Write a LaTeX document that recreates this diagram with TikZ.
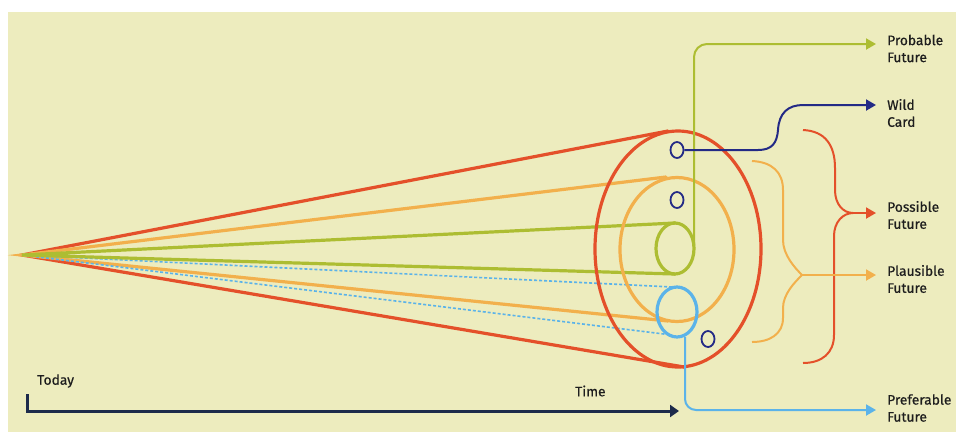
\documentclass[tikz,border=0pt]{standalone}
\usepackage{fontspec}
\setmainfont{Fira Sans}
\newfontfamily\lblfont{Fira Sans}[FakeBold=0.6]
\usetikzlibrary{arrows.meta,shapes.geometric}
\definecolor{bgc}{HTML}{EDECBE}
\definecolor{cred}{HTML}{E4502A}
\definecolor{corange}{HTML}{F2B04C}
\definecolor{cgreen}{HTML}{ADBD32}
\definecolor{cblue}{HTML}{5BB3E9}
\definecolor{cnavy}{HTML}{232A86}
\definecolor{caxis}{HTML}{1D2B4B}
\definecolor{ctext}{HTML}{1E1E1E}
\begin{document}
\begin{tikzpicture}[x=1pt,y=-1pt,
  lbl/.style={anchor=west,align=left,text=ctext,font=\lblfont\fontsize{13.8}{17}\selectfont,inner sep=0pt},
  conn/.style={line width=2pt},
  tip/.style={-{Triangle[length=10pt,width=11pt]}},
  ring/.style={line width=3.2pt},
  cone/.style={line width=3.2pt,line cap=round},
  dot/.style={line width=1.6pt,dash pattern=on 3pt off 2pt},
  hole/.style={draw=cnavy,line width=1.8pt,ellipse,minimum width=13pt,minimum height=16pt,inner sep=0pt}
]
\useasboundingbox (0,0) rectangle (956,432);
\fill[bgc] (8,12) rectangle (956,432);

\coordinate (O) at (22,255);
% ring geometry
\coordinate (redT) at (668,131);
\coordinate (redB) at (684,367);
\coordinate (orT) at (666,177);
\coordinate (orB) at (668,321);
\coordinate (grT) at (675,223);
\coordinate (grB) at (675,274);
\coordinate (blT) at (672,287);
\coordinate (blB) at (672,335);

% cone lines
\draw[cone,cred] (redT) -- (O) -- (redB);
\draw[cone,corange] (orT) -- (O) -- (orB);
\draw[dot,cblue] (blT) -- (O) -- (blB);
\draw[cone,cgreen] (grT) -- (O) -- (grB);

% rings
\draw[ring,cred] (678,249) ellipse [x radius=83,y radius=118];
\draw[ring,corange] (677,249.5) ellipse [x radius=57,y radius=72];
\draw[ring,cgreen] (675,248.5) ellipse [x radius=19,y radius=25.5];
\draw[ring,cblue] (677,312) ellipse [x radius=20,y radius=25];

% small circles
\node[hole] (c1) at (677,150) {};
\node[hole] (c2) at (677,200) {};
\node[hole] (c3) at (708,339) {};

% labels
\node[lbl] (prob) at (887,48.5) {Probable\\Future};
\node[lbl] (wild) at (887,113) {Wild\\Card};
\node[lbl] (poss) at (887,215) {Possible\\Future};
\node[lbl] (plau) at (887,279) {Plausible\\Future};
\node[lbl] (pref) at (887,408) {Preferable\\Future};
\node[lbl] (today) at (37,381) {Today};
\node[lbl] (time) at (575,391) {Time};

% probable connector
\coordinate (probA) at (694,248);
\coordinate (probE) at (876,44);
\draw[conn,cgreen,tip,rounded corners=13pt] (probA) -- (694,44) -- (probE);

% wild card connector
\coordinate (wildE) at (876,105);
\draw[conn,cnavy,tip] (c1.east) -- (758,150) .. controls (772,150) and (777,143) .. (778,130)
  .. controls (779,113) and (788,105) .. (803,105) -- (wildE);

% red brace
\coordinate (redM) at (853,213);
\coordinate (possE) at (876,213);
\draw[conn,cred] (803,130) .. controls (825,131) and (835,145) .. (835,168) -- (835,190)
  .. controls (835,204) and (843,213) .. (redM)
  .. controls (843,213) and (834,222) .. (834,236) -- (834,335)
  .. controls (834,353) and (822,363) .. (803,363);
\draw[conn,cred,tip] (redM) -- (possE);

% orange brace
\coordinate (orM) at (802,275);
\coordinate (plauE) at (876,275);
\draw[conn,corange] (752,161) .. controls (772,162) and (783,172) .. (783,190) -- (783,240)
  .. controls (783,255) and (795,268) .. (orM)
  .. controls (795,282) and (783,294) .. (783,308) -- (783,318)
  .. controls (783,334) and (770,342) .. (752,342);
\draw[conn,corange,tip] (orM) -- (plauE);

% preferable connector
\coordinate (prefE) at (876,410);
\draw[conn,cblue,tip,rounded corners=11pt] (685,337) -- (685,410) -- (prefE);

% time axis
\coordinate (ax0) at (27,394);
\coordinate (axE) at (679,411);
\draw[line width=3pt,caxis,-{Triangle[length=9pt,width=12pt]}] (ax0) -- (27,411) -- (axE);
\end{tikzpicture}
\end{document}
